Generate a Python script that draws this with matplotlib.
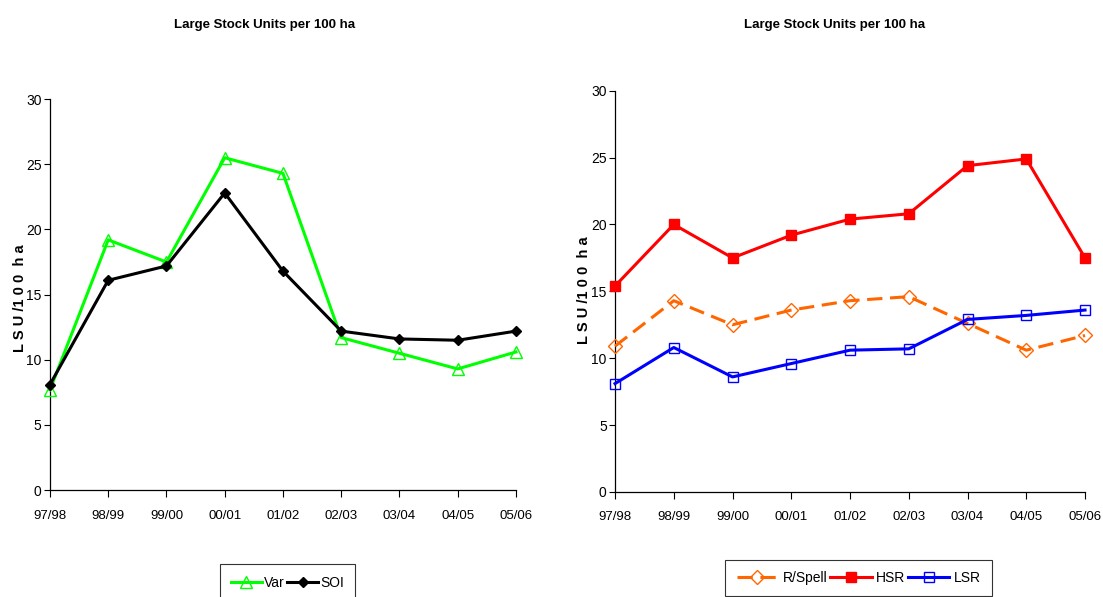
import matplotlib
matplotlib.use("Agg")
import matplotlib.pyplot as plt

# Data
seasons = ['97/98', '98/99', '99/00', '00/01', '01/02', '02/03', '03/04', '04/05', '05/06']
var_vals = [7.7, 19.2, 17.5, 25.5, 24.3, 11.7, 10.5, 9.3, 10.6]
soi_vals = [8.1, 16.1, 17.2, 22.8, 16.8, 12.2, 11.6, 11.5, 12.2]
rspell_vals = [10.9, 14.3, 12.5, 13.6, 14.3, 14.6, 12.6, 10.6, 11.7]
hsr_vals = [15.4, 20.0, 17.5, 19.2, 20.4, 20.8, 24.4, 24.9, 17.5]
lsr_vals = [8.1, 10.8, 8.6, 9.6, 10.6, 10.7, 12.9, 13.2, 13.6]

title = 'Large Stock Units per 100 ha'
ylabel = 'L S U /1 0 0  h a'
yticks = [0, 5, 10, 15, 20, 25, 30]

plt.rcParams['font.family'] = ['Liberation Sans', 'DejaVu Sans']

fig = plt.figure(figsize=(11.03, 5.97), dpi=100)
ax1 = fig.add_axes([0.0453, 0.179, 0.4225, 0.655])
ax2 = fig.add_axes([0.5576, 0.176, 0.4261, 0.672])

x = list(range(len(seasons)))


def style_axis(ax):
    ax.set_ylim(0, 30)
    ax.set_xlim(0, len(seasons) - 1)
    ax.set_yticks(yticks)
    ax.set_xticks(x)
    ax.set_xticklabels(seasons, fontsize=9.5)
    ax.tick_params(axis='y', labelsize=10, length=4, direction='out', width=0.8, pad=2)
    ax.tick_params(axis='x', length=5, direction='out', width=0.8, pad=9)
    for s in ['top', 'right']:
        ax.spines[s].set_visible(False)
    for s in ['left', 'bottom']:
        ax.spines[s].set_linewidth(0.9)


# Left chart
ax1.plot(x, var_vals, color='#00ff00', lw=2.2, marker='^', ms=8, mfc='none',
         mec='#00ff00', mew=1.0, label='Var', clip_on=False, zorder=3)
ax1.plot(x, soi_vals, color='black', lw=2.2, marker='D', ms=5.5, mfc='black',
         mec='black', label='SOI', clip_on=False, zorder=4)
style_axis(ax1)
leg1 = ax1.legend(loc='upper left', bbox_to_anchor=(0.365, -0.19), ncol=2, frameon=True,
                  fancybox=False, edgecolor='black', fontsize=10, handlelength=2.2,
                  handletextpad=0.15, columnspacing=0.2, borderpad=0.8, borderaxespad=0)
leg1.get_frame().set_linewidth(0.8)

# Right chart
ax2.plot(x, rspell_vals, color='#ff6600', lw=2.2, ls=(0, (5, 2.5)), marker='D', ms=7, mfc='none',
         mec='#ff6600', mew=1.0, label='R/Spell', clip_on=False, zorder=3)
ax2.plot(x, hsr_vals, color='#ff0000', lw=2.2, marker='s', ms=7, mfc='#ff0000',
         mec='#ff0000', label='HSR', clip_on=False, zorder=4)
ax2.plot(x, lsr_vals, color='#0000ff', lw=2.2, marker='s', ms=7, mfc='none',
         mec='#0000ff', mew=1.0, label='LSR', clip_on=False, zorder=5)
style_axis(ax2)
leg2 = ax2.legend(loc='upper left', bbox_to_anchor=(0.235, -0.169), ncol=3, frameon=True,
                  fancybox=False, edgecolor='black', fontsize=10, handlelength=3.0,
                  handletextpad=0.3, columnspacing=0.2, borderpad=0.8, borderaxespad=0)
leg2.get_frame().set_linewidth(0.8)

# Titles and axis labels
fig.text(265 / 1103, 1 - 25 / 597, title, ha='center', va='center', fontsize=9.5, fontweight='bold')
fig.text(835 / 1103, 1 - 25 / 597, title, ha='center', va='center', fontsize=9.5, fontweight='bold')
fig.text(20 / 1103, 1 - 298 / 597, ylabel, ha='center', va='center', rotation=90,
         fontsize=10.5, fontweight='bold')
fig.text(584 / 1103, 1 - 290 / 597, ylabel, ha='center', va='center', rotation=90,
         fontsize=10.5, fontweight='bold')

fig.savefig('out.png', dpi=100)
